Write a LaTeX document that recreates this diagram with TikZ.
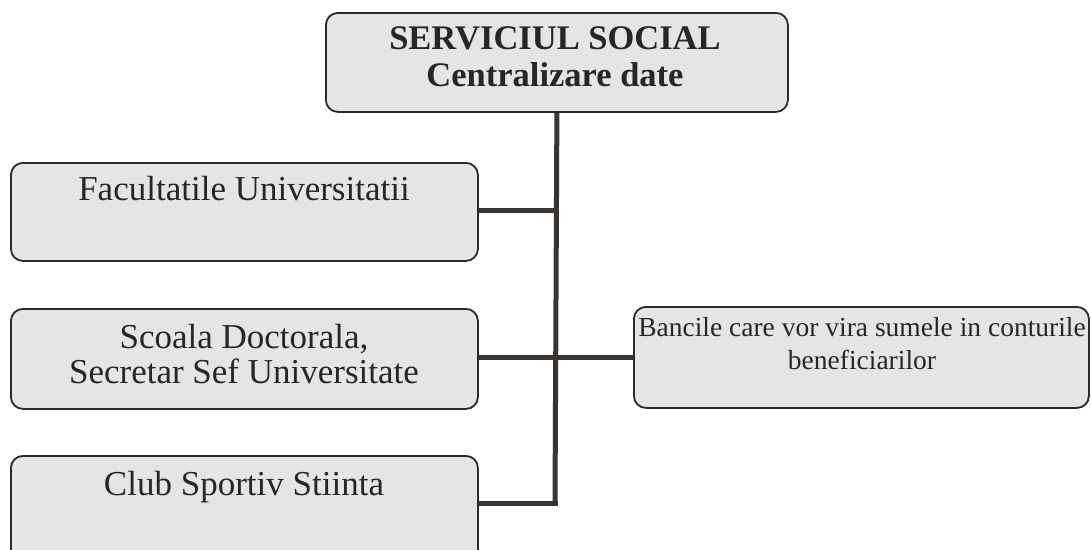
\documentclass[tikz,border=0pt]{standalone}
\usepackage{fontspec}
\setmainfont{Liberation Serif}
\definecolor{boxfill}{HTML}{E6E5E3}
\definecolor{boxline}{HTML}{2C2A28}
\definecolor{conn}{HTML}{3A3531}
\tikzset{
  orgbox/.style={draw=boxline, fill=boxfill, line width=1.8pt, rounded corners=12pt,
    rectangle, inner sep=0pt, anchor=north west},
  big/.style={font=\fontsize{35}{35}\selectfont, text=black!85, inner sep=0pt, align=center},
  link/.style={draw=conn, line width=5pt}
}
\begin{document}
\begin{tikzpicture}[x=1pt,y=-1pt]
\useasboundingbox (0,0) rectangle (1091,549);
% boxes
\node[orgbox, minimum width=462pt, minimum height=99pt] (top) at (325,12) {};
\node[orgbox, minimum width=467pt, minimum height=98pt] (fac) at (10,162) {};
\node[orgbox, minimum width=467pt, minimum height=100pt] (sco) at (10,308) {};
\node[orgbox, minimum width=467pt, minimum height=110pt] (club) at (10,455) {};
\node[orgbox, minimum width=455pt, minimum height=101pt] (banc) at (633,306) {};
% texts
\node[big, font=\fontsize{34.5}{37}\selectfont\bfseries, anchor=center] (ttop) at (555,57) {SERVICIUL SOCIAL\\Centralizare date};
\node[big, anchor=base] (tfac) at (244,200) {Facultatile Universitatii};
\node[big, font=\fontsize{35}{35}\selectfont, anchor=center] (tsco) at (244,354) {Scoala Doctorala,\\Secretar Sef Universitate};
\node[big, anchor=base] (tclub) at (244,495) {Club Sportiv Stiinta};
\node[big, font=\fontsize{27.5}{33}\selectfont, anchor=center] (tbanc) at (862,344) {Bancile care vor vira sumele in conturile\\beneficiarilor};
% connectors
\coordinate (j1) at (555,210);
\coordinate (j2) at (555,357);
\coordinate (j3) at (555,503);
\draw[link] (top.south) -- (j3);
\draw[link] (fac.east |- j1) -- (j1);
\draw[link] (sco.east |- j2) -- (banc.west |- j2);
\draw[link] (club.east |- j3) -- ([xshift=2.5pt]j3);
\end{tikzpicture}
\end{document}
